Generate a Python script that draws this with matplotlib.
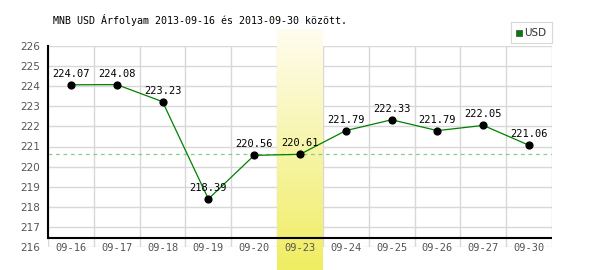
import numpy as np
import matplotlib.pyplot as plt

dates = ['09-16', '09-17', '09-18', '09-19', '09-20', '09-23',
         '09-24', '09-25', '09-26', '09-27', '09-30']
rates = [224.07, 224.08, 223.23, 218.39, 220.56, 220.61,
         221.79, 222.33, 221.79, 222.05, 221.06]
avg_line = 220.61
highlight = 5
title = 'MNB USD Árfolyam 2013-09-16 és 2013-09-30 között.'

fig = plt.figure(figsize=(6, 2.7), dpi=100)
ax = fig.add_axes([0.08, 1 - 247/270, 0.84, 201/270])
n = len(dates)

# grid
for k in range(n + 1):
    ax.axvline(k - 0.5, color='#d8d8d8', lw=1, zorder=0)
for v in range(216, 227):
    ax.axhline(v, color='#d8d8d8', lw=1, zorder=0)

# highlighted day, gradient column that runs past the axes
grad = np.linspace(0, 1, 256).reshape(-1, 1)
top = np.array([1.0, 0.99, 0.94])
bot = np.array([0.94, 0.93, 0.38])
img = top + (bot - top) * grad[..., None]
ax.imshow(img, extent=[highlight - 0.5, highlight + 0.5, 214.85, 226.8],
          aspect='auto', clip_on=False, zorder=1, interpolation='bilinear')
ax.set_xlim(-0.5, n - 0.5)
ax.set_ylim(216, 226)

ax.axhline(avg_line, color='#88cc88', lw=0.9, ls=(0, (3, 3)), zorder=2)
ax.axhline(216.45, color='black', lw=1.5, zorder=3)
ax.plot([-0.5, -0.5], [216.45, 226], color='black', lw=1.5, zorder=3, clip_on=False)

x = np.arange(n)
ax.plot(x, rates, color='green', lw=0.9, zorder=4)
ax.scatter(x, rates, s=24, color='black', zorder=5)
for xi, r in zip(x, rates):
    ax.text(xi, r + 0.3, f'{r:.2f}', ha='center', va='bottom',
            fontsize=7.5, family='DejaVu Sans Mono', zorder=6)

for spine in ax.spines.values():
    spine.set_visible(False)
ax.set_xticks([])
ax.set_yticks(range(216, 227))
ax.tick_params(axis='y', length=0, pad=6, labelsize=7.5, labelcolor='#555555')

for i, d in enumerate(dates):
    bb = None if i == highlight else dict(facecolor='white', edgecolor='none', pad=1)
    ax.text(i, 215.95, d, ha='center', va='center', fontsize=7.5,
            family='DejaVu Sans Mono', color='#555555', bbox=bb, zorder=6)

fig.text(53/600, 1 - 20/270, title, fontsize=7.2, family='DejaVu Sans Mono',
         va='center', ha='left')

# legend box
lax = fig.add_axes([511/600, 1 - 43/270, 41/600, 21/270])
lax.set_xticks([])
lax.set_yticks([])
for s in lax.spines.values():
    s.set_color('#d8d8d8')
lax.set_xlim(0, 41)
lax.set_ylim(0, 21)
lax.add_patch(plt.Rectangle((4.5, 7), 6, 6, facecolor='green', edgecolor='#555555', lw=0.6))
lax.text(13, 10, 'USD', fontsize=7.5, va='center', ha='left', color='#333333')

fig.savefig('out.png', dpi=100)
